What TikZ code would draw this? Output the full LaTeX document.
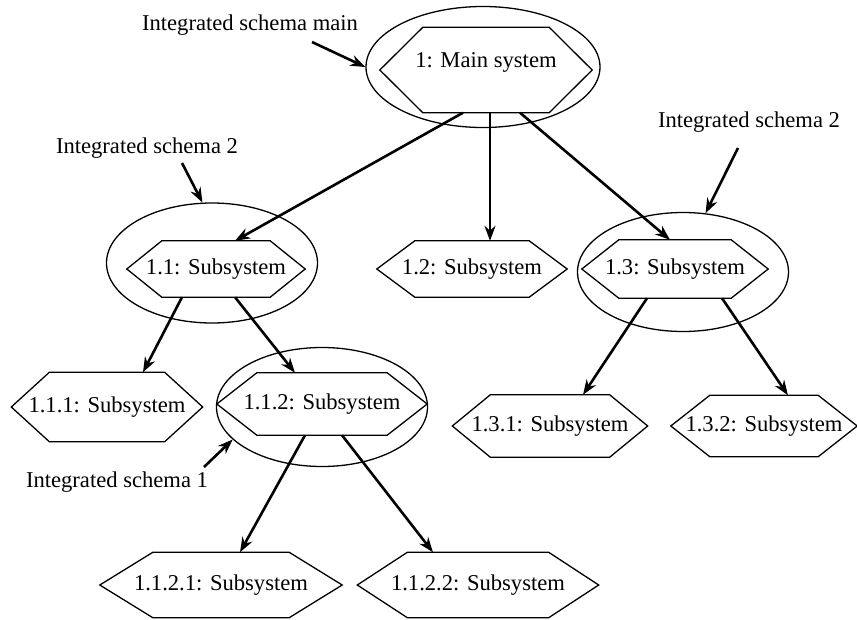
\documentclass[tikz,border=0pt]{standalone}
\usepackage{fontspec}
\setmainfont{Liberation Serif}
\usetikzlibrary{arrows.meta}
\usetikzlibrary{calc}
\usetikzlibrary{shapes.geometric}
\tikzset{
    sys/.style={
        draw=none,
        inner sep=0pt,
        align=center
    },
    hexline/.style={
        line width=1.3pt,
        line join=miter
    },
    schema/.style={
        ellipse,
        draw,
        line width=1.3pt,
        inner sep=0pt
    },
    edge/.style={
        -{Stealth[length=15pt,width=11pt]},
        line width=2.6pt
    }
}
\begin{document}
\begin{tikzpicture}[x=1pt,y=-1pt,font=\fontsize{22.6pt}{27pt}\selectfont]
            \useasboundingbox (0,0) rectangle (857,619);
            % systems
            \node[sys,minimum width=212pt,minimum height=85pt,text depth=20pt] (M) at (486,70) {1: Main system};
            \node[sys,minimum width=178pt,minimum height=56pt] (S11) at (216,269) {1.1: Subsystem};
            \node[sys,minimum width=190pt,minimum height=56pt] (S12) at (472,269) {1.2: Subsystem};
            \node[sys,minimum width=186pt,minimum height=58pt] (S13) at (675,269) {1.3: Subsystem};
            \node[sys,minimum width=191pt,minimum height=69pt] (S111) at (107,407) {1.1.1: Subsystem};
            \node[sys,minimum width=210pt,minimum height=62pt] (S112) at (322,404) {1.1.2: Subsystem};
            \node[sys,minimum width=195pt,minimum height=62pt] (S131) at (550,426) {1.3.1: Subsystem};
            \node[sys,minimum width=186pt,minimum height=61pt] (S132) at (764,426) {1.3.2: Subsystem};
            \node[sys,minimum width=242pt,minimum height=65pt] (S1121) at (221,585) {1.1.2.1: Subsystem};
            \node[sys,minimum width=241pt,minimum height=65pt] (S1122) at (478,585) {1.1.2.2: Subsystem};
            \foreach \n/\d in {M/43,S11/35,S12/38,S13/37,S111/38,S112/40,S131/38,S132/39,S1121/53,S1122/50}
              \draw[hexline] (\n.west) -- ([xshift=\d pt]\n.north west) -- ([xshift=-\d pt]\n.north east)
                -- (\n.east) -- ([xshift=-\d pt]\n.south east) -- ([xshift=\d pt]\n.south west) -- cycle;
            % integrated schemas
            \node[schema,minimum width=234pt,minimum height=121pt] (EM) at (483,67) {};
            \node[schema,minimum width=211pt,minimum height=120pt] (E11) at (212,263) {};
            \node[schema,minimum width=211pt,minimum height=119pt] (E13) at (683,272) {};
            \node[schema,minimum width=211pt,minimum height=119pt] (E112) at (322,407) {};
            \node (LM) at (250,25) {Integrated schema main};
            \node (L2a) at (147,148) {Integrated schema 2};
            \node (L2b) at (749,122) {Integrated schema 2};
            \node (L1) at (117,482) {Integrated schema 1};
            \coordinate (PM) at (312,42);
            \coordinate (P2a) at (182,163);
            \coordinate (P2b) at (738,148);
            \coordinate (P1) at (204,467);
            \foreach \p/\e in {PM/EM.west,P2a/E11.99,P2b/E13.69,P1/E112.200}
              \draw[edge] (\p) -- (\e);
            \foreach \s/\a/\t/\b in {M/-23/S11/19,M/4/S12/18,M/34/S13/-5,S11/-34/S111/36,S11/19/S112/-27,
                                     S13/-28/S131/33,S13/47/S132/24,S112/-17/S1121/19,S112/20/S1122/-45}
              \draw[edge] ([xshift=\a pt]\s.south) -- ([xshift=\b pt]\t.north);
          \end{tikzpicture}
\end{document}
